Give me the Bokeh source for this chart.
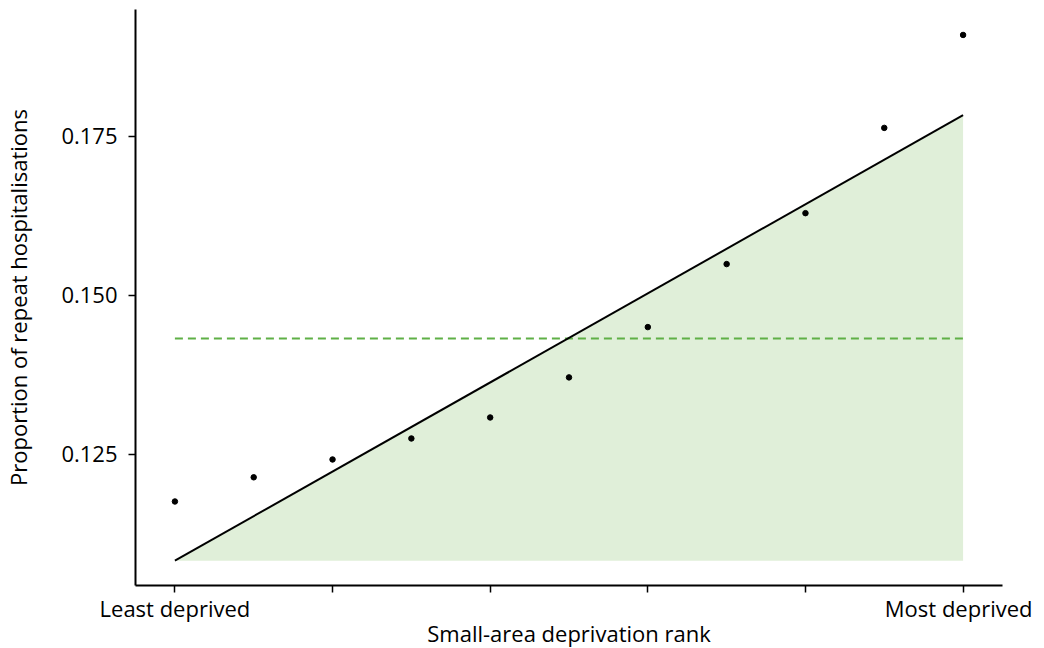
from bokeh.plotting import figure
from bokeh.models import Range1d, FixedTicker
from bokeh.embed import file_html
from bokeh.resources import INLINE

# Data
rank = [0.0, 0.1, 0.2, 0.3, 0.4, 0.5, 0.6, 0.7, 0.8, 0.9, 1.0]
proportion = [0.1176, 0.1214, 0.1242, 0.1275, 0.1308, 0.1371, 0.1450, 0.1549, 0.1629, 0.1763, 0.1909]
fit_x = [0.0, 1.0]
fit_y = [0.1083, 0.1783]
mean_level = 0.1432
x_ticks = [0.0, 0.2, 0.4, 0.6, 0.8, 1.0]
x_tick_labels = ["Least deprived", "", "", "", "", "Most deprived"]
y_ticks = [0.125, 0.150, 0.175]
y_tick_labels = ["0.125", "0.150", "0.175"]

FONT = "Open Sans"

p = figure(frame_width=867, frame_height=576, output_backend="svg", toolbar_location=None,
           x_range=Range1d(-0.05, 1.05), y_range=Range1d(0.1044, 0.1949),
           min_border_left=100, min_border_right=30, min_border_top=9, min_border_bottom=40)
p.outline_line_color = None
p.xgrid.visible = False
p.ygrid.visible = False
p.background_fill_color = "white"

# shaded area under the fitted line
p.varea(x=fit_x, y1=[fit_y[0], fit_y[0]], y2=fit_y, fill_color="#e0efd9", fill_alpha=1.0)
# mean level dashed
p.line(x=fit_x, y=[mean_level, mean_level], line_color="#5fb046", line_width=2, line_dash="8 5")
# fitted line
p.line(x=fit_x, y=fit_y, line_color="black", line_width=2)
# points
p.scatter(x=rank, y=proportion, size=5.5, color="black")

p.xaxis.ticker = FixedTicker(ticks=x_ticks)
p.xaxis.major_label_overrides = {t: l for t, l in zip(x_ticks, x_tick_labels)}
p.yaxis.ticker = FixedTicker(ticks=y_ticks)
p.yaxis.major_label_overrides = {t: l for t, l in zip(y_ticks, y_tick_labels)}

for ax in (p.xaxis[0], p.yaxis[0]):
    ax.axis_line_width = 2
    ax.axis_line_color = "black"
    ax.major_tick_line_color = "black"
    ax.major_tick_line_width = 1.5
    ax.major_tick_out = 7
    ax.major_tick_in = 0
    ax.minor_tick_line_color = None
    ax.major_label_text_font = FONT
    ax.major_label_text_font_size = "22px"
    ax.major_label_text_color = "black"
    ax.axis_label_text_font = FONT
    ax.axis_label_text_font_size = "22px"
    ax.axis_label_text_font_style = "normal"
    ax.axis_label_text_color = "black"

p.xaxis.axis_label = "Small-area deprivation rank"
p.yaxis.axis_label = "Proportion of repeat hospitalisations"
p.xaxis.major_label_standoff = 0
p.yaxis.major_label_standoff = 11
p.xaxis.axis_label_standoff = -8
p.yaxis.axis_label_standoff = 25

open("out.html", "w").write(file_html(p, INLINE))
